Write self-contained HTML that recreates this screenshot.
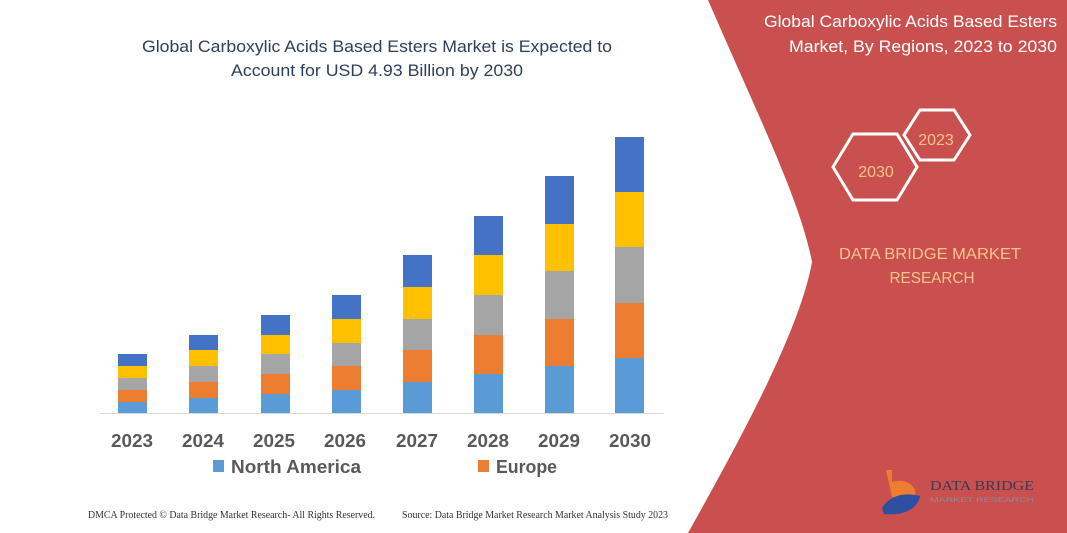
<!DOCTYPE html>
<html><head><meta charset="utf-8"><style>
html,body{margin:0;padding:0;background:#fff;}
svg{display:block;}
</style></head><body>
<svg width="1067" height="533" viewBox="0 0 1067 533" xmlns="http://www.w3.org/2000/svg" font-family="Liberation Sans, sans-serif">
<rect width="1067" height="533" fill="#fff"/>
<path d="M708,0 L1067,0 L1067,533 L688,533 C740,440 800,330 812,262 C800,200 760,120 708,0 Z" fill="#c9504e"/>
<text x="377" y="52" text-anchor="middle" font-size="17" fill="#2e3f5c" textLength="470" lengthAdjust="spacingAndGlyphs">Global Carboxylic Acids Based Esters Market is Expected to</text>
<text x="377" y="76" text-anchor="middle" font-size="17" fill="#2e3f5c" textLength="292" lengthAdjust="spacingAndGlyphs">Account for USD 4.93 Billion by 2030</text>
<g>
<rect x="118" y="402" width="29" height="11" fill="#5b9bd5"/><rect x="118" y="390" width="29" height="12" fill="#ed7d31"/><rect x="118" y="378" width="29" height="12" fill="#a5a5a5"/><rect x="118" y="366" width="29" height="12" fill="#ffc000"/><rect x="118" y="354" width="29" height="12" fill="#4472c4"/>
<rect x="189" y="398" width="29" height="15" fill="#5b9bd5"/><rect x="189" y="382" width="29" height="16" fill="#ed7d31"/><rect x="189" y="366" width="29" height="16" fill="#a5a5a5"/><rect x="189" y="350" width="29" height="16" fill="#ffc000"/><rect x="189" y="335" width="29" height="15" fill="#4472c4"/>
<rect x="261" y="394" width="29" height="19" fill="#5b9bd5"/><rect x="261" y="374" width="29" height="20" fill="#ed7d31"/><rect x="261" y="354" width="29" height="20" fill="#a5a5a5"/><rect x="261" y="335" width="29" height="19" fill="#ffc000"/><rect x="261" y="315" width="29" height="20" fill="#4472c4"/>
<rect x="332" y="390" width="29" height="23" fill="#5b9bd5"/><rect x="332" y="366" width="29" height="24" fill="#ed7d31"/><rect x="332" y="343" width="29" height="23" fill="#a5a5a5"/><rect x="332" y="319" width="29" height="24" fill="#ffc000"/><rect x="332" y="295" width="29" height="24" fill="#4472c4"/>
<rect x="403" y="382" width="29" height="31" fill="#5b9bd5"/><rect x="403" y="350" width="29" height="32" fill="#ed7d31"/><rect x="403" y="319" width="29" height="31" fill="#a5a5a5"/><rect x="403" y="287" width="29" height="32" fill="#ffc000"/><rect x="403" y="255" width="29" height="32" fill="#4472c4"/>
<rect x="474" y="374" width="29" height="39" fill="#5b9bd5"/><rect x="474" y="335" width="29" height="39" fill="#ed7d31"/><rect x="474" y="295" width="29" height="40" fill="#a5a5a5"/><rect x="474" y="255" width="29" height="40" fill="#ffc000"/><rect x="474" y="216" width="29" height="39" fill="#4472c4"/>
<rect x="545" y="366" width="29" height="47" fill="#5b9bd5"/><rect x="545" y="319" width="29" height="47" fill="#ed7d31"/><rect x="545" y="271" width="29" height="48" fill="#a5a5a5"/><rect x="545" y="224" width="29" height="47" fill="#ffc000"/><rect x="545" y="176" width="29" height="48" fill="#4472c4"/>
<rect x="615" y="358" width="29" height="55" fill="#5b9bd5"/><rect x="615" y="303" width="29" height="55" fill="#ed7d31"/><rect x="615" y="247" width="29" height="56" fill="#a5a5a5"/><rect x="615" y="192" width="29" height="55" fill="#ffc000"/><rect x="615" y="137" width="29" height="55" fill="#4472c4"/>
</g>
<line x1="100" y1="413.5" x2="664" y2="413.5" stroke="#d9d9d9" stroke-width="1"/>
<g font-size="18" font-weight="bold" fill="#595959" text-anchor="middle">
<text x="132" y="447" textLength="42" lengthAdjust="spacingAndGlyphs">2023</text>
<text x="203" y="447" textLength="42" lengthAdjust="spacingAndGlyphs">2024</text>
<text x="274" y="447" textLength="42" lengthAdjust="spacingAndGlyphs">2025</text>
<text x="345" y="447" textLength="42" lengthAdjust="spacingAndGlyphs">2026</text>
<text x="417" y="447" textLength="42" lengthAdjust="spacingAndGlyphs">2027</text>
<text x="488" y="447" textLength="42" lengthAdjust="spacingAndGlyphs">2028</text>
<text x="559" y="447" textLength="42" lengthAdjust="spacingAndGlyphs">2029</text>
<text x="630" y="447" textLength="42" lengthAdjust="spacingAndGlyphs">2030</text>
</g>
<rect x="213" y="460" width="11" height="12" fill="#5b9bd5"/>
<text x="231" y="473" font-size="18" font-weight="bold" fill="#595959" textLength="130" lengthAdjust="spacingAndGlyphs">North America</text>
<rect x="478" y="460" width="11" height="12" fill="#ed7d31"/>
<text x="496" y="473" font-size="18" font-weight="bold" fill="#595959" textLength="61" lengthAdjust="spacingAndGlyphs">Europe</text>
<text x="88" y="518" font-family="Liberation Serif, serif" font-size="10.5" fill="#333" textLength="287" lengthAdjust="spacingAndGlyphs">DMCA Protected © Data Bridge Market Research-  All Rights Reserved.</text>
<text x="402" y="518" font-family="Liberation Serif, serif" font-size="10.5" fill="#333" textLength="266" lengthAdjust="spacingAndGlyphs">Source:  Data Bridge Market Research  Market Analysis Study 2023</text>
<text x="1057" y="27" text-anchor="end" font-size="17" fill="#fff" textLength="293" lengthAdjust="spacingAndGlyphs">Global Carboxylic Acids Based Esters</text>
<text x="1057" y="52" text-anchor="end" font-size="17" fill="#fff" textLength="268" lengthAdjust="spacingAndGlyphs">Market, By Regions, 2023 to 2030</text>
<polygon points="904,135 920,110 954,110 970,135 954,160 920,160" fill="none" stroke="#fff" stroke-width="3"/>
<polygon points="833,167 853,134 897,134 917,167 897,200 853,200" fill="none" stroke="#fff" stroke-width="3"/>
<text x="936" y="145" text-anchor="middle" font-size="16" fill="#f7c48a">2023</text>
<text x="876" y="177" text-anchor="middle" font-size="16" fill="#f7c48a">2030</text>
<text x="930" y="259" text-anchor="middle" font-size="16" fill="#f7c48a" textLength="182" lengthAdjust="spacingAndGlyphs">DATA BRIDGE MARKET</text>
<text x="932" y="283" text-anchor="middle" font-size="16" fill="#f7c48a" textLength="85" lengthAdjust="spacingAndGlyphs">RESEARCH</text>
<path d="M886,470 L892,470 L892,482 C905,478 918,485 915,497 L892,497 Z" fill="#ed7d31"/>
<path d="M882,508 C890,495 905,492 920,496 C918,508 905,516 884,514 Z" fill="#2e4fa0"/>
<text x="930" y="490" font-family="Liberation Serif, serif" font-size="14" fill="#3a3a5a" textLength="104" lengthAdjust="spacingAndGlyphs">DATA BRIDGE</text>
<text x="930" y="502" font-size="6" fill="#8a8aa0" textLength="104" lengthAdjust="spacingAndGlyphs">MARKET RESEARCH</text>
</svg>
</body></html>
